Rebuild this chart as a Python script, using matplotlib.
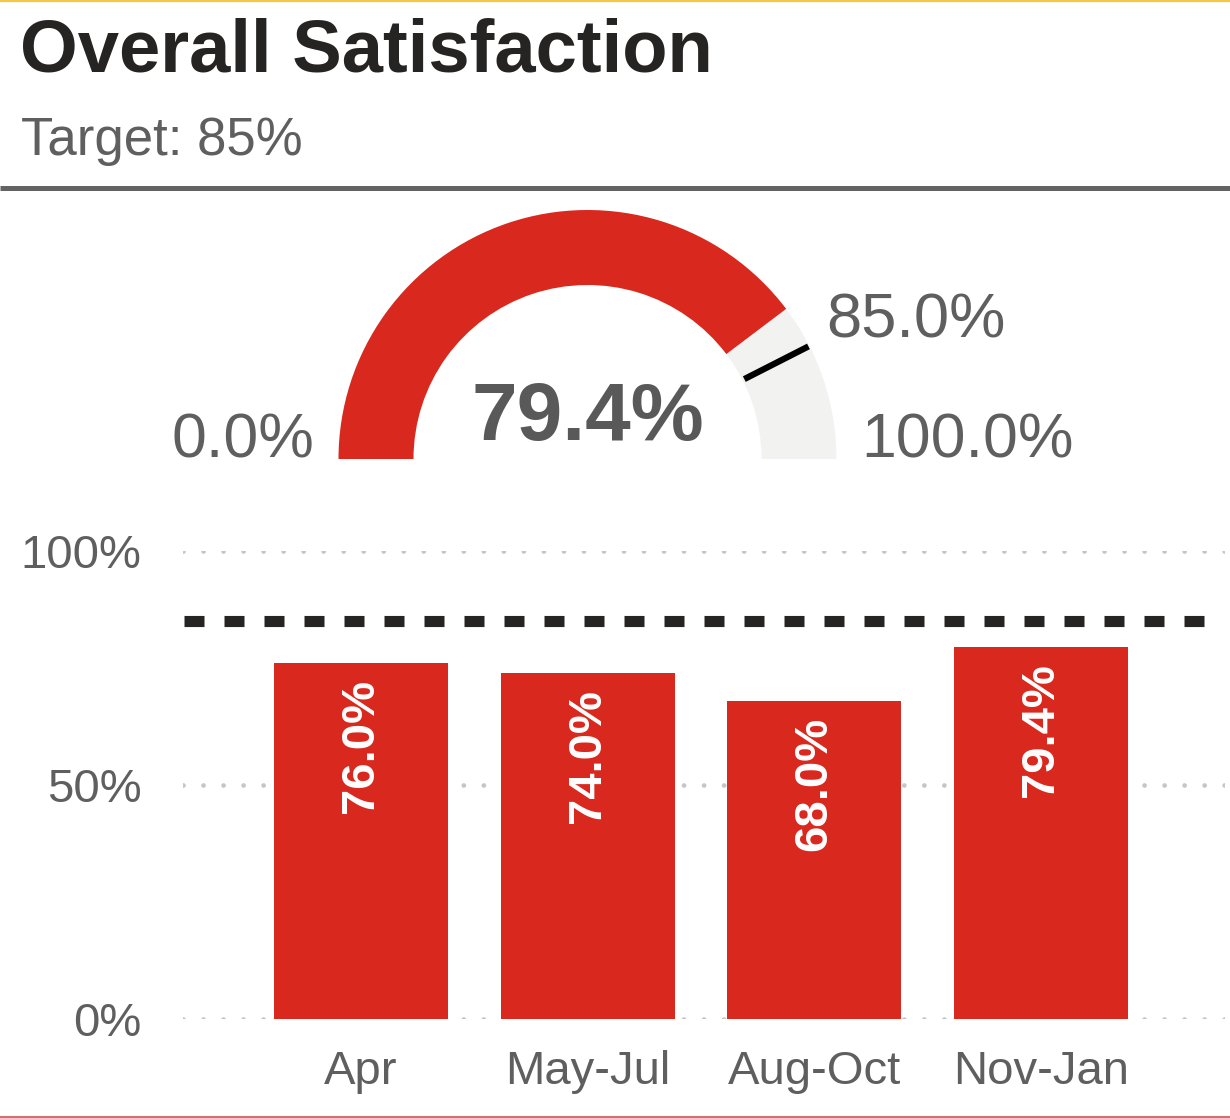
import matplotlib
matplotlib.use("Agg")
import matplotlib.pyplot as plt
from matplotlib.patches import Wedge
import numpy as np

plt.rcParams['font.family'] = ['Liberation Sans', 'DejaVu Sans']

# ---- data ----
title = "Overall Satisfaction"
subtitle = "Target: 85%"
gauge_value = 79.4
gauge_target = 85.0
gauge_min = 0.0
gauge_max = 100.0
categories = ["Apr", "May-Jul", "Aug-Oct", "Nov-Jan"]
values = [76.0, 74.0, 68.0, 79.4]
target_line = 85.0
y_ticks = [0, 50, 100]
y_tick_labels = ["0%", "50%", "100%"]

RED = "#d9281e"
GREY_BG = "#f2f2f1"
TXT = "#5f5f5f"
DARK = "#252423"

W, H = 1230, 1118
fig = plt.figure(figsize=(W / 100, H / 100), dpi=100)
fig.patch.set_facecolor("white")

# overlay axes in pixel coordinates (y up)
ov = fig.add_axes([0, 0, 1, 1])
ov.set_xlim(0, W)
ov.set_ylim(0, H)
ov.axis("off")

def py(y):
    return H - y

# borders
ov.plot([0, W], [py(0.8), py(0.8)], color="#f3c843", lw=1.6, solid_capstyle="butt")
ov.plot([0, W], [py(1117), py(1117)], color="#c87472", lw=1.5, solid_capstyle="butt")
ov.plot([0, W], [py(187.5), py(187.5)], color="#636363", lw=3.6, solid_capstyle="butt")

# titles
ov.text(20, py(71), title, fontsize=53.5, fontweight="bold", color=DARK, ha="left", va="baseline")
ov.text(21, py(155), subtitle, fontsize=38, color=TXT, ha="left", va="baseline")

# gauge
cx, cy = 587.5, py(459)
R_out, band = 249, 75
frac = (gauge_value - gauge_min) / (gauge_max - gauge_min)
ang_val = 180 - frac * 180
ov.add_patch(Wedge((cx, cy), R_out, 0, ang_val, width=band, facecolor=GREY_BG, edgecolor="none"))
ov.add_patch(Wedge((cx, cy), R_out, ang_val, 180, width=band, facecolor=RED, edgecolor="none"))
tfrac = (gauge_target - gauge_min) / (gauge_max - gauge_min)
ang_t = np.deg2rad(180 - tfrac * 180)
r1, r2 = R_out - band + 2, R_out - 1
ov.plot([cx + r1 * np.cos(ang_t), cx + r2 * np.cos(ang_t)],
        [cy + r1 * np.sin(ang_t), cy + r2 * np.sin(ang_t)], color="black", lw=4.5, solid_capstyle="butt")

ov.text(cx, py(440), f"{gauge_value:.1f}%", fontsize=59, fontweight="bold", color="#595959",
        ha="center", va="baseline")
ov.text(314, py(458), f"{gauge_min:.1f}%", fontsize=45, color=TXT, ha="right", va="baseline")
ov.text(861, py(458), f"{gauge_max:.1f}%", fontsize=45, color=TXT, ha="left", va="baseline")
ov.text(826, py(338), f"{gauge_target:.1f}%", fontsize=45.5, color=TXT, ha="left", va="baseline")

# bar chart
left_px, right_px = 183, 1225
top_px, bot_px = 551, 1019
ax = fig.add_axes([left_px / W, (H - bot_px) / H, (right_px - left_px) / W, (bot_px - top_px) / H])
ax.set_facecolor("none")
x = np.arange(len(categories))
spacing = 226.7
x0 = (left_px - 361) / spacing
x1 = (right_px - 361) / spacing
ax.set_xlim(x0, x1)
ax.set_ylim(0, 100)
for s in ax.spines.values():
    s.set_visible(False)

for t in y_ticks:
    ax.axhline(t, color="#c6c6c6", lw=3.4, linestyle=(0, (0.01, 4.23)), dash_capstyle="round", zorder=0)

ax.bar(x, values, width=0.767, color=RED, zorder=2)
ax.plot([x0 + 0.005, (1212 - 361) / spacing], [target_line, target_line], color=DARK, lw=8,
        linestyle=(0, (1.8, 1.8)), zorder=3)

for xi, v in zip(x, values):
    ax.annotate(f"{v:.1f}%", (xi, v), xytext=(0, -16), textcoords="offset pixels",
                rotation=90, ha="center", va="top", fontsize=34, fontweight="bold", color="white", zorder=4)

ax.set_yticks(y_ticks)
ax.set_yticklabels(y_tick_labels, fontsize=34, color=TXT)
ax.set_xticks(x)
ax.set_xticklabels(categories, fontsize=34, color=TXT)
ax.tick_params(axis="y", length=0, pad=30)
ax.tick_params(axis="x", length=0, pad=22)

fig.savefig("out.png", dpi=100, facecolor="white")
